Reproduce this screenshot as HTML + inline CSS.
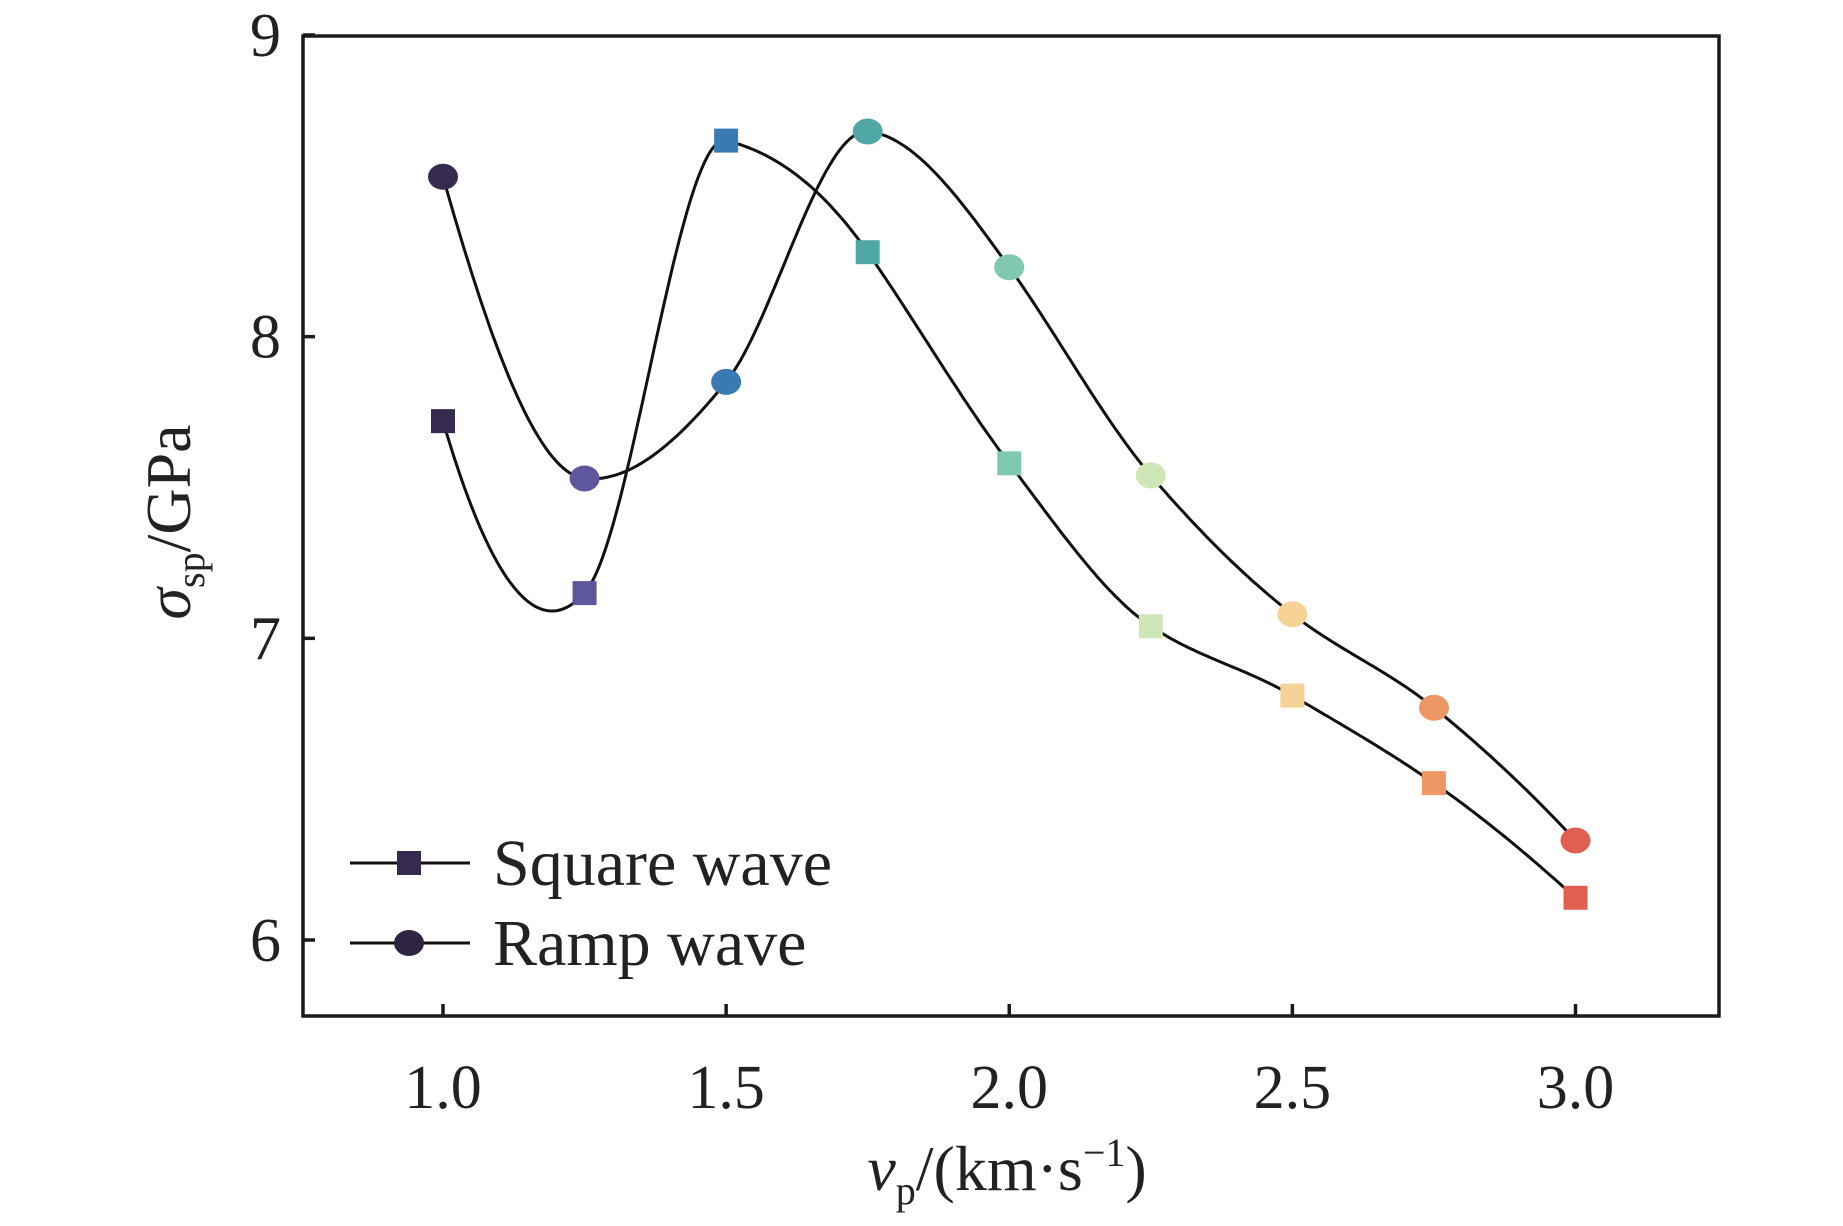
<!DOCTYPE html>
<html><head><meta charset="utf-8"><style>
body{margin:0;background:#fff}
svg text{font-family:"Liberation Serif",serif;fill:#222}
</style></head><body>
<svg id="chart" width="1843" height="1221" xmlns="http://www.w3.org/2000/svg"></svg>
<script>
const xValues=[1.0,1.25,1.5,1.75,2.0,2.25,2.5,2.75,3.0];
const squareValues=[7.72,7.15,8.65,8.28,7.58,7.04,6.81,6.52,6.14];
const rampValues=[8.53,7.53,7.85,8.68,8.23,7.54,7.08,6.77,6.33];
const pointColors=["#362a4f","#5e579c","#3a79b3","#4fa8a6","#7fcaae","#cde8b6","#f7d296","#ef9764","#e05f4e"];
const xTicks=["1.0","1.5","2.0","2.5","3.0"];
const yTicks=["6","7","8","9"];

const svg=document.getElementById('chart');
const NS="http://www.w3.org/2000/svg";
const L=303,R=1719,T=36,B=1016;
const X=v=>443+(v-1)*(1575.5-443)/2;
const Y=v=>940-(v-6)*(940-35)/3;
function mk(tag,attrs,parent){const e=document.createElementNS(NS,tag);for(const k in attrs)e.setAttribute(k,attrs[k]);(parent||svg).appendChild(e);return e;}

function akima(xs,ys){const n=xs.length,m=[];
for(let i=0;i<n-1;i++)m[i+2]=(ys[i+1]-ys[i])/(xs[i+1]-xs[i]);
m[1]=2*m[2]-m[3];m[0]=2*m[1]-m[2];
m[n+1]=2*m[n]-m[n-1];m[n+2]=2*m[n+1]-m[n];
const t=[];
for(let i=0;i<n;i++){const w1=Math.abs(m[i+3]-m[i+2]),w2=Math.abs(m[i+1]-m[i]);
t[i]=(w1+w2)<1e-9?(m[i+1]+m[i+2])/2:(w1*m[i+1]+w2*m[i+2])/(w1+w2);}
const pts=[];
for(let i=0;i<n-1;i++){const h=xs[i+1]-xs[i];
for(let k=0;k<40;k++){const s=k/40,s2=s*s,s3=s2*s;
const y=(2*s3-3*s2+1)*ys[i]+(s3-2*s2+s)*h*t[i]+(-2*s3+3*s2)*ys[i+1]+(s3-s2)*h*t[i+1];
pts.push([xs[i]+s*h,y]);}}
pts.push([xs[n-1],ys[n-1]]);return pts;}

const frame=mk('rect',{x:L,y:T,width:R-L,height:B-T,fill:'none',stroke:'#1a1a1a','stroke-width':3.5});


xTicks.forEach(t=>{const x=X(+t);
const tk=mk('line',{x1:x,x2:x,y1:B,y2:B-12,stroke:'#1a1a1a','stroke-width':3.5});


const tx=mk('text',{x:x,y:B+92,'font-size':62,'text-anchor':'middle'});tx.textContent=t;

});
yTicks.forEach(t=>{const y=Y(+t);
const tk=mk('line',{x1:L,x2:L+12,y1:y,y2:y,stroke:'#1a1a1a','stroke-width':3.5});


const tx=mk('text',{x:L-22,y:y+21,'font-size':62,'text-anchor':'end'});tx.textContent=t;

});

function drawSeries(vals,name,shape){
const pts=akima(xValues,vals);
const p=mk('path',{d:pts.map((q,i)=>(i?'L':'M')+X(q[0]).toFixed(1)+','+Y(q[1]).toFixed(1)).join(''),fill:'none',stroke:'#111','stroke-width':3});


vals.forEach((v,i)=>{let m;
if(shape==='sq')m=mk('rect',{x:X(xValues[i])-12,y:Y(v)-12,width:24,height:24,fill:pointColors[i]});
else m=mk('ellipse',{cx:X(xValues[i]),cy:Y(v),rx:15,ry:13,fill:pointColors[i]});

});}
drawSeries(squareValues,'square-wave','sq');
drawSeries(rampValues,'ramp-wave','ci');

function leg(y,label,shape,nm){const g=mk('g',{});


mk('line',{x1:350,x2:470,y1:y,y2:y,stroke:'#111','stroke-width':3},g);
if(shape==='sq')mk('rect',{x:397,y:y-12,width:24,height:24,fill:'#362a4f'},g);
else mk('ellipse',{cx:409,cy:y,rx:15,ry:13,fill:'#2f2442'},g);
const t=mk('text',{x:493,y:y+22,'font-size':66},g);t.textContent=label;}
leg(863,'Square wave','sq','legend-square-wave');
leg(943,'Ramp wave','ci','legend-ramp-wave');
</script>
<div style="position:absolute;left:0;top:0">
<svg width="1843" height="1221" xmlns="http://www.w3.org/2000/svg" style="position:absolute;left:0;top:0">
<text x="1007" y="1190" text-anchor="middle" font-size="64" font-family="Liberation Serif, serif" fill="#222"><tspan font-style="italic">v</tspan><tspan font-size="40" dy="14">p</tspan><tspan dy="-14">/(km·s</tspan><tspan font-size="40" dy="-24">−1</tspan><tspan dy="24">)</tspan></text>
<text transform="translate(190,522) rotate(-90)" text-anchor="middle" font-size="64" font-family="Liberation Serif, serif" fill="#222"><tspan font-style="italic">σ</tspan><tspan font-size="40" dy="14">sp</tspan><tspan dy="-14">/GPa</tspan></text>
</svg></div>
</body></html>
